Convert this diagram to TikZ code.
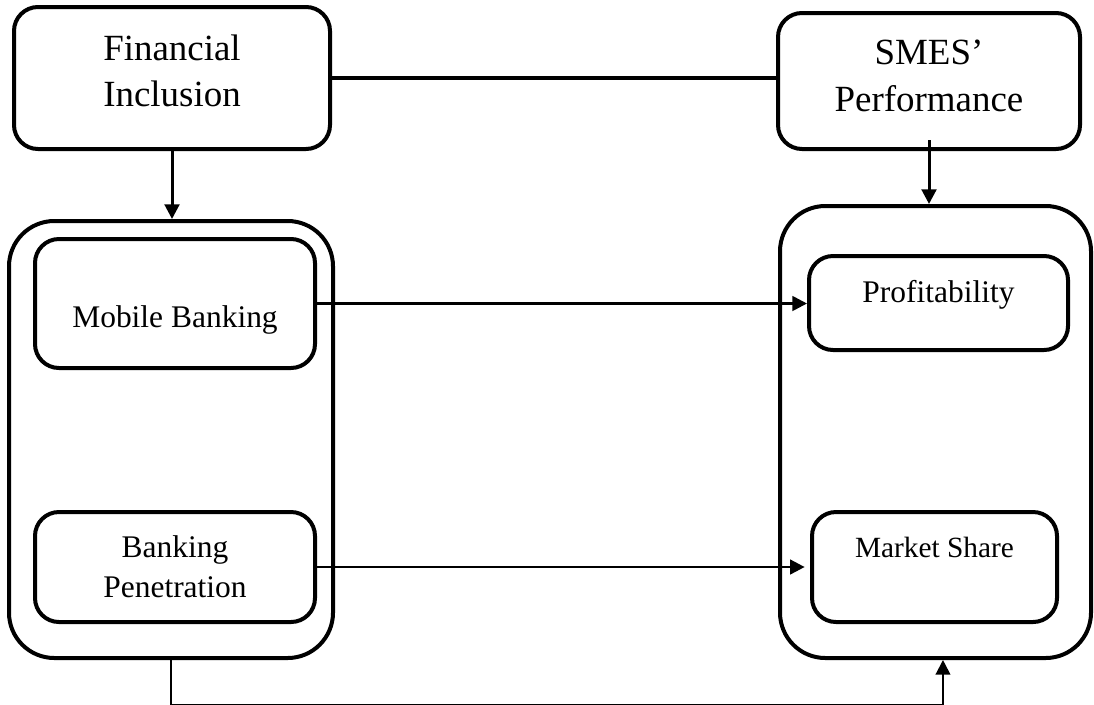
\documentclass[tikz,border=0pt]{standalone}
\usepackage{fontspec}
\setmainfont{Liberation Serif}
\usetikzlibrary{arrows.meta}
\usetikzlibrary{positioning}

\begin{document}
\begin{tikzpicture}[x=0.75pt,y=-0.75pt,
		box/.style={draw,line width=3pt,rounded corners=18pt,inner sep=0pt},
		group/.style={draw,line width=3pt,rounded corners=34pt,inner sep=0pt},
		bigtxt/.style={font=\fontsize{27.7}{35}\selectfont,align=center},
		smalltxt/.style={font=\fontsize{23.6}{30}\selectfont,align=center},
		link/.style={line width=2.5pt},
		arr/.style={line width=2pt,-{Triangle[length=11pt,width=11pt]}}]
			\useasboundingbox (0,0) rectangle (1094,704);
			
			\node[box,minimum width=237pt,minimum height=106.5pt,label={[bigtxt,yshift=5.25pt]center:{Financial\\Inclusion}}] (fin) at (172,78) {};
			\node[box,minimum width=226.5pt,minimum height=102pt,label={[bigtxt,yshift=3.75pt]center:{SMES’\\Performance}}] (sme) at (929,81) {};
			
			\node[group,minimum width=243pt,minimum height=327.75pt] (grpL) at (171,439.5) {};
			\node[group,minimum width=233.25pt,minimum height=339pt] (grpR) at (935.5,432) {};
			
			\node[box,minimum width=210pt,minimum height=96.75pt,label={[smalltxt,yshift=-12pt]center:Mobile Banking}] (mob) at (175,303.5) {};
			\node[box,minimum width=210pt,minimum height=82.5pt,label={[smalltxt]center:{Banking\\Penetration}}] (pen) at (175,567) {};
			\node[box,minimum width=194.25pt,minimum height=70.5pt,label={[smalltxt,yshift=6.2pt]center:Profitability}] (prof) at (938.5,303) {};
			\node[box,minimum width=183.75pt,minimum height=82.5pt,label={[smalltxt,font=\fontsize{22}{28}\selectfont,yshift=15pt]center:Market Share}] (mkt) at (934.5,567) {};
			
			\draw[link] (fin.east) -- (fin.east -| sme.west);
			\draw[arr,line width=2.25pt] (fin.south) -- (fin.south |- grpL.north);
			\draw[arr,line width=2.25pt] ([yshift=8pt]sme.south) -- (sme.south |- grpR.north);
			\draw[arr] (mob.east) -- (mob.east -| prof.west);
			\draw[arr] (pen.east) -- ([xshift=-4pt]pen.east -| mkt.west);
			
			\coordinate (grpRin) at ([xshift=5.6pt]grpR.south);
			\draw[arr,line width=1.5pt] (grpL.south) -- ++(0,45) -| (grpRin);
		\end{tikzpicture}
\end{document}
